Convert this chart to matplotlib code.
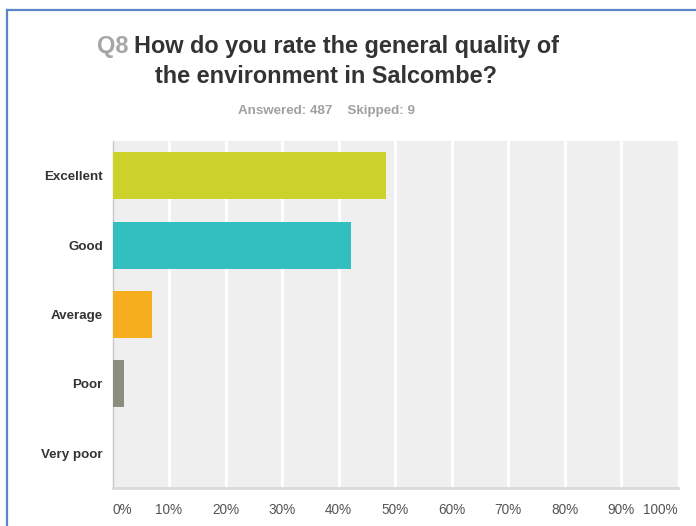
import matplotlib.pyplot as plt
from matplotlib.lines import Line2D

# survey answers, Q8
categories = ['Excellent', 'Good', 'Average', 'Poor', 'Very poor']
percentages = [48.3, 42.1, 6.9, 2.1, 0.0]
bar_colors = ['#CDD22B', '#33BEC0', '#F7AE1E', '#8B8E7E', '#C0C0C0']
tick_values = [0, 10, 20, 30, 40, 50, 60, 70, 80, 90, 100]
answered = 487
skipped = 9

W, H = 696, 526
fig = plt.figure(figsize=(W / 100, H / 100), dpi=100)
fig.patch.set_facecolor('white')
plt.rcParams['font.family'] = ['Liberation Sans', 'DejaVu Sans']

# plot area in pixel terms
left, right, top, bottom = 112.5, 678, 141, 488
ax = fig.add_axes([left / W, (H - bottom) / H, (right - left) / W, (bottom - top) / H])
ax.set_facecolor('#EFEFEF')

y_pos = list(range(len(categories)))
ax.barh(y_pos, percentages, height=0.68, color=bar_colors, zorder=3)
ax.set_ylim(len(categories) - 0.5, -0.5)
ax.set_xlim(0, 100)

# white gridlines between 10% and 90%
for v in tick_values[1:-1]:
    ax.axvline(v, color='white', lw=2, zorder=1)

ax.set_yticks(y_pos)
ax.set_yticklabels(categories, fontsize=9.6, fontweight='bold', color='#333333')
ax.set_xticks(tick_values)
ax.set_xticklabels([f'{v}%' for v in tick_values], fontsize=9.8, color='#555555')
ax.tick_params(axis='x', length=0, pad=10.5)
ax.tick_params(axis='y', length=0, pad=7)
xlabels = ax.get_xticklabels()
xlabels[0].set_ha('left')
xlabels[-1].set_ha('right')

for side in ['top', 'right']:
    ax.spines[side].set_visible(False)
ax.spines['bottom'].set_color('#D9D9D9')
ax.spines['bottom'].set_linewidth(2)
ax.spines['left'].set_color('#C8C8C8')
ax.spines['left'].set_linewidth(1)

# title, "Q8" in grey before the question
title_size = 16.9
fig.text(128 / W, 1 - 53 / H, 'Q8', fontsize=title_size, fontweight='bold',
         color='#A6A6A6', ha='right', va='baseline')
fig.text(134 / W, 1 - 53 / H, 'How do you rate the general quality of',
         fontsize=title_size, fontweight='bold', color='#333333', ha='left', va='baseline')
fig.text(326 / W, 1 - 83 / H, 'the environment in Salcombe?',
         fontsize=title_size, fontweight='bold', color='#333333', ha='center', va='baseline')
fig.text(327 / W, 1 - 111 / H, f'Answered: {answered}    Skipped: {skipped}',
         fontsize=9.6, fontweight='bold', color='#A0A0A0', ha='center', va='center')

# blue frame along the top and left
fig.add_artist(Line2D([6.5 / W, 1.0], [1 - 10 / H, 1 - 10 / H], color='#5B87C8', lw=1.6))
fig.add_artist(Line2D([6.5 / W, 6.5 / W], [0.0, 1 - 10 / H], color='#5B87C8', lw=1.6))

fig.savefig('out.png', dpi=100)
